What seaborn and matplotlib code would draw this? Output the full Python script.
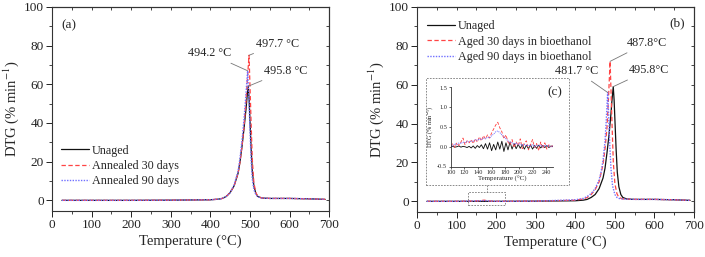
import numpy as np
import pandas as pd
import seaborn as sns
import matplotlib
matplotlib.use("Agg")
import matplotlib.pyplot as plt
from matplotlib.patches import Rectangle
from matplotlib.lines import Line2D
from matplotlib.ticker import MultipleLocator

# ---------------- data ----------------
# Panel (a)
a_unaged_T = [25, 100, 200, 300, 400, 420, 430, 440, 450, 460, 470, 475, 480, 485, 490, 493, 495.8, 498, 500, 503, 506, 510, 515, 520, 530, 550, 600, 650, 690]
a_unaged_y = [0.0, 0.0, 0.0, 0.1, 0.3, 0.6, 1.0, 2.0, 4.0, 7.5, 14, 20, 28, 37, 47, 54, 59, 52, 42, 27, 15, 7.5, 3.5, 2.0, 1.2, 1.0, 1.0, 0.8, 0.5]
a_ann30_T = [25, 100, 200, 300, 400, 420, 430, 440, 450, 460, 470, 475, 480, 485, 490, 494, 497.7, 500, 503, 506, 510, 515, 520, 530, 550, 600, 650, 690]
a_ann30_y = [0.0, 0.0, 0.0, 0.1, 0.3, 0.6, 1.0, 2.0, 4.0, 7.5, 14, 20, 28, 38, 51, 64, 75, 60, 40, 21, 9.0, 4.0, 2.0, 1.2, 1.0, 1.0, 0.8, 0.5]
a_ann90_T = [25, 100, 200, 300, 400, 420, 430, 440, 450, 460, 470, 475, 480, 485, 490, 494.2, 497, 500, 503, 506, 510, 515, 520, 530, 550, 600, 650, 690]
a_ann90_y = [0.0, 0.0, 0.0, 0.1, 0.3, 0.6, 1.0, 2.0, 4.0, 8.0, 15, 22, 31, 42, 55, 67, 55, 37, 21, 11, 5.5, 3.0, 1.8, 1.2, 1.0, 1.0, 0.8, 0.5]

# Panel (b)
b_unaged_T = [25, 100, 200, 300, 400, 420, 430, 440, 450, 460, 470, 475, 480, 485, 490, 493, 495.8, 498, 500, 503, 506, 510, 515, 520, 530, 550, 600, 650, 690]
b_unaged_y = [0.0, 0.0, 0.0, 0.1, 0.3, 0.6, 1.0, 2.0, 3.5, 6.5, 12, 17, 25, 34, 45, 53, 59, 52, 42, 27, 15, 7.5, 3.5, 2.0, 1.2, 1.0, 1.0, 0.8, 0.5]
b_aged30_T = [25, 100, 150, 160, 170, 180, 190, 200, 300, 400, 420, 430, 440, 450, 460, 470, 475, 480, 484, 487.8, 490, 493, 496, 500, 505, 510, 520, 550, 600, 650, 690]
b_aged30_y = [0.0, 0.0, 0.2, 0.3, 0.6, 0.2, 0.1, 0.0, 0.1, 0.6, 1.2, 2.0, 3.5, 6.0, 10, 19, 27, 38, 54, 72, 58, 38, 20, 9.0, 4.0, 2.0, 1.2, 1.0, 1.0, 0.8, 0.5]
b_aged90_T = [25, 100, 150, 160, 170, 180, 190, 200, 300, 400, 420, 430, 440, 450, 460, 465, 470, 475, 478, 481.7, 484, 487, 490, 494, 500, 505, 510, 520, 550, 600, 650, 690]
b_aged90_y = [0.0, 0.0, 0.2, 0.3, 0.4, 0.2, 0.1, 0.0, 0.1, 0.8, 1.5, 2.5, 4.0, 6.5, 11, 15, 21, 31, 41, 56, 45, 29, 17, 8.0, 3.5, 2.0, 1.5, 1.2, 1.0, 1.0, 0.8, 0.5]

# Inset (c)
c_T = [100, 103, 106, 109, 112, 115, 118, 121, 124, 127, 130, 133, 136, 139, 142, 145, 148,
       151, 154, 157, 160, 163, 166, 169, 172, 175, 178, 181, 184, 187, 190, 193, 196, 199,
       202, 205, 208, 211, 214, 217, 220, 223, 226, 229, 232, 235, 238, 241, 244, 247, 250]
c_unaged = [0.00, 0.01, -0.01, 0.00, 0.02, -0.01, 0.01, 0.00, -0.02, 0.01, -0.03, 0.02, -0.04, 0.03, -0.02, 0.05, -0.05,
            0.08, -0.06, 0.10, -0.10, 0.06, -0.08, 0.12, -0.06, 0.14, -0.12, 0.10, -0.08, 0.12, -0.06, 0.08, -0.05, 0.06,
            -0.04, 0.05, -0.06, 0.04, -0.05, 0.05, -0.06, 0.03, -0.04, 0.04, -0.03, 0.03, -0.02, 0.03, -0.02, 0.02, 0.00]
c_aged30 = [0.02, 0.08, -0.02, 0.10, 0.03, 0.12, 0.22, 0.05, 0.15, 0.10, 0.18, 0.08, 0.20, 0.12, 0.25, 0.15, 0.28,
            0.20, 0.30, 0.22, 0.35, 0.45, 0.55, 0.62, 0.48, 0.38, 0.20, 0.30, 0.12, 0.05, 0.18, -0.02, 0.12, 0.03,
            0.20, -0.05, 0.10, 0.15, -0.08, 0.05, 0.18, -0.02, 0.08, -0.10, 0.12, -0.04, 0.10, -0.06, 0.05, 0.00, 0.03]
c_aged90 = [0.05, 0.02, 0.08, 0.05, 0.10, 0.08, 0.12, 0.10, 0.14, 0.12, 0.15, 0.13, 0.18, 0.16, 0.20, 0.18, 0.22,
            0.20, 0.24, 0.22, 0.28, 0.32, 0.38, 0.40, 0.36, 0.30, 0.25, 0.20, 0.15, 0.12, 0.10, 0.06, 0.10, 0.05,
            0.08, 0.03, 0.06, 0.02, 0.05, 0.01, 0.06, 0.00, 0.04, 0.02, 0.05, 0.00, 0.04, 0.01, 0.03, 0.00, 0.02]

labels_a = ["Unaged", "Annealed 30 days", "Annealed 90 days"]
labels_b = ["Unaged", "Aged 30 days in bioethanol", "Aged 90 days in bioethanol"]

# ---------------- style ----------------
sns.set_style("ticks")
plt.rcParams["font.family"] = ["Liberation Serif", "DejaVu Serif"]
plt.rcParams["mathtext.fontset"] = "stix"
plt.rcParams["axes.linewidth"] = 0.8
plt.rcParams["axes.edgecolor"] = "#333333"

BLACK = "#111111"
RED = "#ff4444"
BLUE = "#7070ff"
styles = [dict(color=BLACK, ls="-", lw=0.9),
          dict(color=RED, ls=(0, (3.5, 2)), lw=0.9),
          dict(color=BLUE, ls=(0, (1, 1)), lw=1.0)]

fig = plt.figure(figsize=(7.05, 2.57), dpi=100)
ax1 = fig.add_axes([0.0738, 0.179, 0.393, 0.794])
ax2 = fig.add_axes([0.5915, 0.175, 0.393, 0.798])


def draw_series(ax, Ts, ys, labels, lwscale=1.0):
    for T, y, lab, st in zip(Ts, ys, labels, styles):
        df = pd.DataFrame({"T": T, "y": y})
        sns.lineplot(data=df, x="T", y="y", ax=ax, color=st["color"],
                     lw=st["lw"] * lwscale, label=None, legend=False,
                     estimator=None, sort=False)
        ax.lines[-1].set_linestyle(st["ls"])


def style_main(ax):
    ax.set_xlim(0, 700)
    ax.set_ylim(-5.5, 100)
    ax.xaxis.set_major_locator(MultipleLocator(100))
    ax.xaxis.set_minor_locator(MultipleLocator(50))
    ax.yaxis.set_major_locator(MultipleLocator(20))
    ax.yaxis.set_minor_locator(MultipleLocator(10))
    ax.tick_params(which="major", direction="out", length=4, width=0.7,
                   labelsize=9.5, pad=2, colors="#222222")
    ax.tick_params(which="minor", direction="out", length=2, width=0.6)
    ax.set_xlabel("Temperature (°C)", fontsize=10.5, labelpad=2)
    ax.set_ylabel("DTG (% min$^{-1}$)", fontsize=10.5, labelpad=2)
    for s in ax.spines.values():
        s.set_visible(True)
    sec = ax.secondary_yaxis("right")
    sec.yaxis.set_major_locator(MultipleLocator(10))
    sec.tick_params(direction="in", length=2.5, width=0.6, labelright=False)
    sec2 = ax.secondary_xaxis("top")
    sec2.xaxis.set_major_locator(MultipleLocator(50))
    sec2.tick_params(direction="in", length=2.5, width=0.6, labeltop=False)


draw_series(ax1, [a_unaged_T, a_ann30_T, a_ann90_T], [a_unaged_y, a_ann30_y, a_ann90_y], labels_a)
draw_series(ax2, [b_unaged_T, b_aged30_T, b_aged90_T], [b_unaged_y, b_aged30_y, b_aged90_y], labels_b)
style_main(ax1)
style_main(ax2)

# legends
def add_legend(ax, labels, anchor):
    handles = [Line2D([], [], **st) for st in styles]
    ax.legend(handles, labels, loc="upper left", bbox_to_anchor=anchor,
              frameon=False, fontsize=8.7, handlelength=2.3, handletextpad=0.25,
              labelspacing=0.28, borderpad=0, borderaxespad=0)

add_legend(ax1, labels_a, (0.032, 0.325))
add_legend(ax2, labels_b, (0.036, 0.935))

ax1.text(0.032, 0.91, "(a)", transform=ax1.transAxes, fontsize=9.5, va="center", ha="left")
ax2.text(0.967, 0.92, "(b)", transform=ax2.transAxes, fontsize=9.5, va="center", ha="right")

ann = dict(arrowstyle="-", color="#777777", lw=0.6, shrinkA=1, shrinkB=0)
ax1.annotate("494.2 °C", xy=(494.2, 67), xytext=(397, 76), fontsize=8.7, ha="center", va="center", arrowprops=ann)
ax1.annotate("497.7 °C", xy=(497.7, 75), xytext=(571, 81), fontsize=8.7, ha="center", va="center", arrowprops=ann)
ax1.annotate("495.8 °C", xy=(495.8, 59), xytext=(590, 67), fontsize=8.7, ha="center", va="center", arrowprops=ann)
ax2.annotate("487.8°C", xy=(487.8, 72), xytext=(580, 81.5), fontsize=8.7, ha="center", va="center", arrowprops=ann)
ax2.annotate("481.7 °C", xy=(481.7, 56), xytext=(404, 67), fontsize=8.7, ha="center", va="center", arrowprops=ann)
ax2.annotate("495.8°C", xy=(495.8, 59), xytext=(585, 67.5), fontsize=8.7, ha="center", va="center", arrowprops=ann)

# small zoom rectangle in panel (b)
ax2.add_patch(Rectangle((130, -2), 93, 7, fill=False, ls=(0, (2, 1.5)), lw=0.6, ec="#777777"))

# inset dashed box (figure coords)
W, H = 705.0, 257.0
bx0, bx1, by0, by1 = 425.7, 569.0, 78.0, 185.0
fig.patches.append(Rectangle((bx0 / W, 1 - by1 / H), (bx1 - bx0) / W, (by1 - by0) / H,
                             transform=fig.transFigure, fill=False, ls=(0, (2, 1.5)),
                             lw=0.6, ec="#777777"))
# connector from small rectangle to box
cx = 417.3 + 177 * (276.7 / 700)
fig.lines.append(Line2D([cx / W, cx / W], [1 - by1 / H, 1 - 192.5 / H], transform=fig.transFigure,
                        ls=(0, (2, 1.5)), lw=0.6, color="#777777"))

# inset axes
axi = fig.add_axes([450.7 / W, 1 - 166.5 / H, 102.3 / W, 79 / H])
draw_series(axi, [c_T, c_T, c_T], [c_unaged, c_aged30, c_aged90], labels_b, lwscale=0.7)
axi.set_xlim(100, 250)
axi.set_ylim(-0.5, 1.5)
axi.xaxis.set_major_locator(MultipleLocator(20))
axi.set_yticks([-0.5, 0.0, 0.5, 1.0, 1.5])
axi.set_yticklabels(["-0.5", "0.0", "0.5", "1.0", "1.5"])
axi.tick_params(direction="out", length=1.5, width=0.5, labelsize=4.5, pad=1)
axi.set_xlabel("Temperature (°C)", fontsize=5, labelpad=1)
axi.set_ylabel("DTG (% min$^{-1}$)", fontsize=4.5, labelpad=1)
axi.spines["top"].set_visible(False)
axi.spines["right"].set_visible(False)
axi.spines["left"].set_linewidth(0.6)
axi.spines["bottom"].set_linewidth(0.6)
axi.patch.set_alpha(0)
fig.text(562 / W, 1 - 92 / H, "(c)", fontsize=9.5, ha="right", va="center")

fig.savefig("out.png", dpi=100)
